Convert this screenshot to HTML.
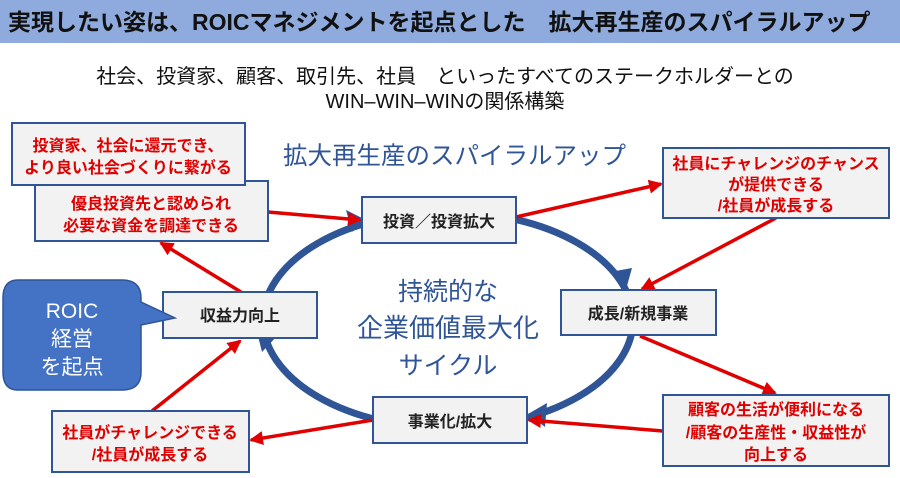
<!DOCTYPE html>
<html><head><meta charset="utf-8"><style>
html,body{margin:0;padding:0;background:#fff;}
svg{display:block;font-family:"Liberation Sans","Noto Sans CJK JP",sans-serif;}
</style></head><body>
<svg width="900" height="478" viewBox="0 0 900 478" xmlns="http://www.w3.org/2000/svg">
<defs>
<marker id="rb" markerWidth="14" markerHeight="14" refX="12" refY="7" orient="auto" markerUnits="userSpaceOnUse"><path d="M0,0 L14,7 L0,14 z" fill="#e00000"/></marker>
</defs>
<rect x="0" y="0" width="900" height="43" fill="#8faadc"/>
<text x="8" y="30" font-size="23" font-weight="bold" fill="#111">実現したい姿は、ROICマネジメントを起点とした　拡大再生産のスパイラルアップ</text>
<text x="445" y="83" font-size="20" text-anchor="middle" fill="#111">社会、投資家、顧客、取引先、社員　といったすべてのステークホルダーとの</text>
<text x="445" y="108" font-size="20" text-anchor="middle" fill="#111">WIN–WIN–WINの関係構築</text>
<text x="283" y="164" font-size="24.5" fill="#2f5597">拡大再生産のスパイラルアップ</text>

<ellipse cx="448" cy="320" rx="185" ry="108" fill="none" stroke="#2f5597" stroke-width="7"/>
<polygon points="364,219 346,210 352,232" fill="#2f5597"/>
<polygon points="625,293 610,272 632,268" fill="#2f5597"/>
<polygon points="528,414 547,403 545,427" fill="#2f5597"/>
<polygon points="257,332 278,335 262,352" fill="#2f5597"/>

<text x="448" y="300" font-size="25" text-anchor="middle" fill="#2f5597">持続的な</text>
<text x="448" y="337" font-size="26" text-anchor="middle" fill="#2f5597">企業価値最大化</text>
<text x="448" y="374" font-size="25" text-anchor="middle" fill="#2f5597">サイクル</text>

<g stroke="#e00000" stroke-width="3.5" fill="none">
<line x1="268" y1="212" x2="360" y2="220" marker-end="url(#rb)"/>
<line x1="516" y1="217" x2="661" y2="184" marker-end="url(#rb)"/>
<line x1="776" y1="218" x2="642" y2="289" marker-end="url(#rb)"/>
<line x1="640" y1="336" x2="775" y2="393" marker-end="url(#rb)"/>
<line x1="663" y1="431" x2="529" y2="420" marker-end="url(#rb)"/>
<line x1="373" y1="420" x2="251" y2="440" marker-end="url(#rb)"/>
<line x1="152" y1="411" x2="240" y2="341" marker-end="url(#rb)"/>
<line x1="241" y1="292" x2="161" y2="243" marker-end="url(#rb)"/>
</g>

<g stroke="#2f5597" stroke-width="2" fill="#f2f2f2">
<rect x="35" y="181" width="233" height="60"/>
<rect x="12" y="123" width="233" height="62"/>
<rect x="362" y="197" width="154" height="46"/>
<rect x="663" y="148" width="226" height="70"/>
<rect x="561" y="290" width="155" height="45"/>
<rect x="663" y="395" width="226" height="71"/>
<rect x="373" y="397" width="154" height="46"/>
<rect x="163" y="292" width="154" height="46"/>
<rect x="52" y="411" width="197" height="61"/>
</g>
<g font-weight="bold" font-size="16" text-anchor="middle">
<text x="128" y="151" fill="#e00000">投資家、社会に還元でき、</text>
<text x="128" y="173" fill="#e00000">より良い社会づくりに繋がる</text>
<text x="151" y="209" fill="#e00000">優良投資先と認められ</text>
<text x="151" y="231" fill="#e00000">必要な資金を調達できる</text>
<text x="439" y="227" fill="#222">投資／投資拡大</text>
<text x="776" y="169" fill="#e00000">社員にチャレンジのチャンス</text>
<text x="776" y="190" fill="#e00000">が提供できる</text>
<text x="776" y="211" fill="#e00000">/社員が成長する</text>
<text x="638" y="319" fill="#222">成長/新規事業</text>
<text x="776" y="415" fill="#e00000">顧客の生活が便利になる</text>
<text x="776" y="438" fill="#e00000">/顧客の生産性・収益性が</text>
<text x="776" y="460" fill="#e00000">向上する</text>
<text x="450" y="427" fill="#222">事業化/拡大</text>
<text x="240" y="321" fill="#222">収益力向上</text>
<text x="150" y="438" fill="#e00000">社員がチャレンジできる</text>
<text x="150" y="460" fill="#e00000">/社員が成長する</text>
</g>

<path d="M18,280 L122,280 Q141,280 141,298 L141,302 L175,318 L141,325 L141,372 Q141,390 122,390 L18,390 Q3,390 3,372 L3,298 Q3,280 18,280 Z" fill="#4472c4" stroke="#2f5597" stroke-width="1.5"/>
<g fill="#fff" font-size="21" text-anchor="middle">
<text x="72" y="318">ROIC</text>
<text x="72" y="346">経営</text>
<text x="72" y="374">を起点</text>
</g>
</svg>
</body></html>
